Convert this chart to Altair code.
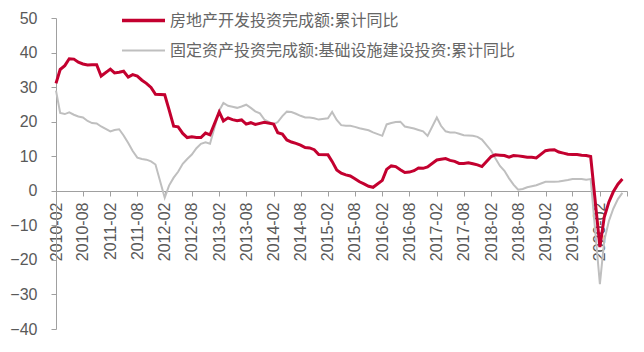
import altair as alt
import pandas as pd

# Months (Jan is not published separately; Jan-Feb combined as "02")
months = [f"{y}-{m:02d}" for y in range(2010, 2021) for m in range(2, 13)
          if not (y == 2020 and m > 7)]

# 房地产开发投资完成额:累计同比
re_yoy = [
    31.1, 35.1, 36.2, 38.2, 38.1, 37.2, 36.7, 36.4, 36.5, 36.5, 33.2,
    35.2, 34.1, 34.3, 34.6, 32.9, 33.6, 33.2, 32.0, 31.1, 29.9, 27.9,
    27.8, 23.5, 18.7, 18.5, 16.6, 15.4, 15.6, 15.4, 15.4, 16.7, 16.2,
    22.8, 20.2, 21.1, 20.6, 20.3, 20.5, 19.3, 19.7, 19.2, 19.5, 19.8,
    19.3, 16.8, 16.4, 14.7, 14.1, 13.7, 13.2, 12.5, 12.4, 11.9, 10.5,
    10.4, 8.5, 6.0, 5.1, 4.6, 4.3, 3.5, 2.6, 2.0, 1.3, 1.0,
    3.0, 6.2, 7.2, 7.0, 6.1, 5.3, 5.4, 5.8, 6.6, 6.5, 6.9,
    8.9, 9.1, 9.3, 8.8, 8.5, 7.9, 7.9, 8.1, 7.8, 7.5, 7.0,
    9.9, 10.4, 10.3, 10.2, 9.7, 10.2, 10.1, 9.9, 9.7, 9.7, 9.5,
    11.6, 11.8, 11.9, 11.2, 10.9, 10.6, 10.5, 10.5, 10.3, 10.2, 9.9,
    -16.3, -7.7, -3.3, -0.3, 1.9, 3.4,
]

# 固定资产投资完成额:基础设施建设投资:累计同比
infra_yoy = [
    29.0, 22.5, 22.2, 22.7, 22.0, 21.5, 21.2, 20.2, 19.6, 19.5, 18.6,
    17.2, 17.6, 17.8, 16.0, 13.8, 11.5, 9.6, 9.2, 9.0, 8.5, 7.6,
    -2.0, 1.5, 3.8, 5.5, 7.8, 9.2, 10.5, 12.3, 13.6, 14.0, 13.6,
    23.2, 25.4, 24.6, 24.3, 24.0, 24.4, 24.9, 24.0, 23.0, 22.4, 20.6,
    19.2, 19.9, 21.6, 22.9, 22.8, 22.3, 21.7, 21.2, 21.2, 21.0, 20.6,
    21.0, 22.8, 20.5, 19.0, 18.8, 18.8, 18.5, 18.1, 17.8, 17.5, 16.9,
    15.9, 19.2, 19.6, 19.9, 20.0, 18.6, 18.3, 18.0, 17.6, 17.2, 15.9,
    21.2, 18.8, 17.2, 16.9, 16.9, 16.5, 16.1, 16.0, 15.9, 15.6, 14.8,
    11.6, 9.4, 7.2, 5.8, 3.6, 1.8, 0.3, 0.5, 1.0, 1.3, 1.6,
    2.6, 2.6, 2.6, 2.7, 2.9, 3.1, 3.4, 3.4, 3.4, 3.2, 3.4,
    -27.0, -14.5, -8.8, -5.2, -2.4, -0.6,
]

series_names = ["房地产开发投资完成额:累计同比",
                "固定资产投资完成额:基础设施建设投资:累计同比"]
y_ticks = [-40, -30, -20, -10, 0, 10, 20, 30, 40, 50]
tick_months = [(2010 + i // 2, 2 if i % 2 == 0 else 8) for i in range(22)]

RED = "#C3002F"
GRAY = "#BFBFBF"
TXT = "#595959"
AX = "#A0A0A0"

dates = [m + "-01" for m in months]
df_re = pd.DataFrame({"date": dates, "value": re_yoy})
df_in = pd.DataFrame({"date": dates, "value": infra_yoy})

W, H = 571, 311

x_enc = alt.X(
    "date:T",
    scale=alt.Scale(type="utc",
                    domain=[alt.DateTime(year=2010, month=2, date=1, utc=True),
                            alt.DateTime(year=2020, month=8, date=1, utc=True)]),
    axis=alt.Axis(
        values=[alt.DateTime(year=y, month=m, date=1, utc=True) for y, m in tick_months],
        labelExpr="utcFormat(datum.value, '%Y-%m') == '2020-08' ? '' : utcFormat(datum.value, '%Y-%m')",
        offset=-138,
        labelAngle=270,
        labelFontSize=16,
        labelFont="Liberation Sans",
        labelColor=TXT,
        labelPadding=6,
        labelOverlap=False,
        labelFlush=False,
        tickSize=5,
        tickColor=AX,
        domainColor=AX,
        grid=False,
        title=None,
    ),
)
y_enc = alt.Y(
    "value:Q",
    scale=alt.Scale(domain=[-40, 50], nice=False, zero=False),
    axis=alt.Axis(
        values=y_ticks,
        labelFontSize=16,
        labelFont="Liberation Sans",
        labelColor=TXT,
        labelPadding=14,
        labelFlush=False,
        tickSize=5,
        tickColor=AX,
        domainColor=AX,
        grid=False,
        title=None,
    ),
)

gray_line = alt.Chart(df_in).mark_line(color=GRAY, strokeWidth=2).encode(x=x_enc, y=y_enc)
red_line = alt.Chart(df_re).mark_line(color=RED, strokeWidth=3).encode(x=x_enc, y=y_enc)

one = pd.DataFrame({"k": [0]})
leg_red = alt.Chart(one).mark_rule(color=RED, strokeWidth=3.5).encode(
    x=alt.value(66), x2=alt.value(109), y=alt.value(2.5))
leg_gray = alt.Chart(one).mark_rule(color=GRAY, strokeWidth=2).encode(
    x=alt.value(66), x2=alt.value(109), y=alt.value(32.5))
leg_t1 = alt.Chart(one).mark_text(
    align="left", baseline="middle", fontSize=16, font="Noto Sans CJK SC", color="#666666"
).encode(x=alt.value(114), y=alt.value(2.5), text=alt.value(series_names[0]))
leg_t2 = alt.Chart(one).mark_text(
    align="left", baseline="middle", fontSize=16, font="Noto Sans CJK SC", color="#666666"
).encode(x=alt.value(114), y=alt.value(32.5), text=alt.value(series_names[1]))

chart = alt.layer(gray_line, red_line, leg_red, leg_gray, leg_t1, leg_t2).properties(
    width=W, height=H,
    autosize=alt.AutoSizeParams(type="none"),
    padding={"left": 56, "top": 18, "right": 644 - 56 - W, "bottom": 352 - 18 - H},
    background="white",
).configure_view(stroke=None)

chart.save("out.html", embed_options={"renderer": "svg", "actions": False})
